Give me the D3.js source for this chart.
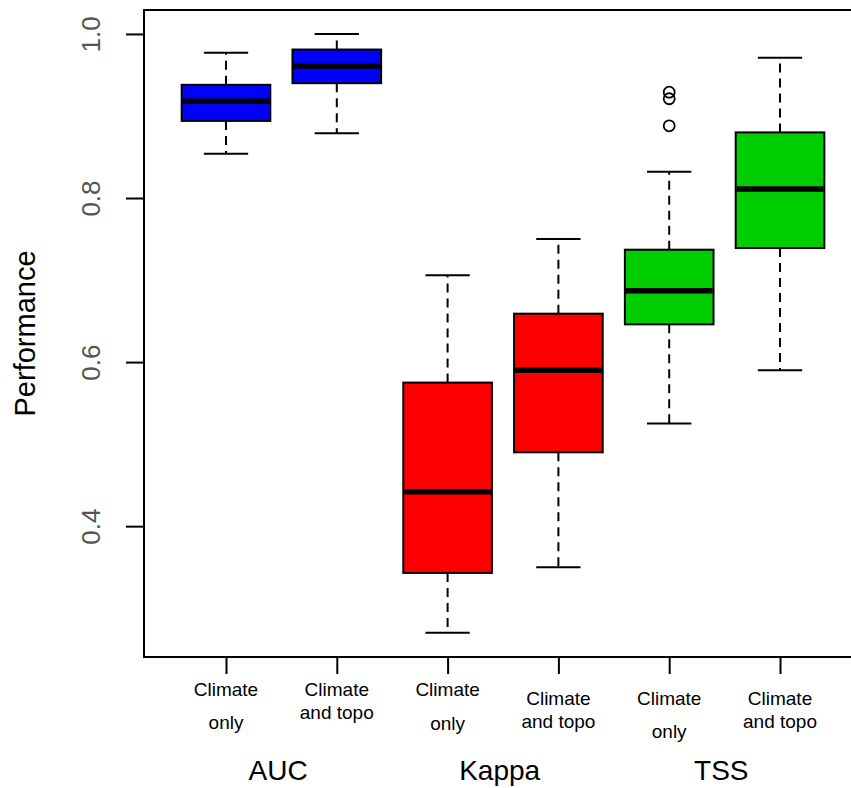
<!DOCTYPE html>
<html>
<head>
<meta charset="utf-8">
<script src="https://cdn.jsdelivr.net/npm/d3@7"></script>
<style>
  body { margin: 0; background: #fff; }
  svg { display: block; font-family: "Liberation Sans", Arial, sans-serif; }
</style>
</head>
<body>
<div id="chart"></div>
<script>
// values
var groups = ["AUC", "Kappa", "TSS"];
var categories = ["Climate\nonly", "Climate\nand topo", "Climate\nonly", "Climate\nand topo", "Climate\nonly", "Climate\nand topo"];
var boxGroup = [0, 0, 1, 1, 2, 2];
var lowWhisker = [0.854, 0.879, 0.270, 0.350, 0.525, 0.590];
var q1 = [0.894, 0.940, 0.343, 0.490, 0.646, 0.739];
var median = [0.918, 0.961, 0.442, 0.590, 0.687, 0.811];
var q3 = [0.938, 0.981, 0.575, 0.659, 0.737, 0.880];
var highWhisker = [0.977, 1.000, 0.706, 0.750, 0.832, 0.971];
var outliers = [[], [], [], [], [0.929, 0.921, 0.888], []];
var yTicks = [0.4, 0.6, 0.8, 1.0];

var groupColors = ["#0000ff", "#ff0000", "#00cd00"];
// baseline offsets (px below the axis) of the two label lines
var labelLines = [[39, 72], [39, 62], [39, 73], [48, 71], [48, 81], [48, 71]];

var W = 851, H = 788;
var pLeft = 144, pTop = 10, pBottom = 657, pRight = 862;

var svg = d3.select("#chart").append("svg").attr("width", W).attr("height", H);

var x = d3.scaleLinear().domain([0.26, 6.74]).range([pLeft, pRight]);
var y = d3.scaleLinear().domain([0.2405, 1.0292]).range([pBottom, pTop]);

var boxes = categories.map(function (c, i) {
  return {
    i: i + 1, label: c, g: boxGroup[i],
    lo: lowWhisker[i], q1: q1[i], med: median[i], q3: q3[i], hi: highWhisker[i],
    out: outliers[i]
  };
});

var bw = 0.8, sw = 0.4;

var b = svg.selectAll("g.box").data(boxes).enter().append("g").attr("class", "box");

// whiskers
b.append("line")
  .attr("x1", function (d) { return x(d.i); })
  .attr("x2", function (d) { return x(d.i); })
  .attr("y1", function (d) { return y(d.q3); })
  .attr("y2", function (d) { return y(d.hi); })
  .attr("stroke", "#000").attr("stroke-width", 2).attr("stroke-dasharray", "9,6");
b.append("line")
  .attr("x1", function (d) { return x(d.i); })
  .attr("x2", function (d) { return x(d.i); })
  .attr("y1", function (d) { return y(d.q1); })
  .attr("y2", function (d) { return y(d.lo); })
  .attr("stroke", "#000").attr("stroke-width", 2).attr("stroke-dasharray", "9,6");
// staples
b.append("line")
  .attr("x1", function (d) { return x(d.i - sw / 2); })
  .attr("x2", function (d) { return x(d.i + sw / 2); })
  .attr("y1", function (d) { return y(d.hi); })
  .attr("y2", function (d) { return y(d.hi); })
  .attr("stroke", "#000").attr("stroke-width", 2);
b.append("line")
  .attr("x1", function (d) { return x(d.i - sw / 2); })
  .attr("x2", function (d) { return x(d.i + sw / 2); })
  .attr("y1", function (d) { return y(d.lo); })
  .attr("y2", function (d) { return y(d.lo); })
  .attr("stroke", "#000").attr("stroke-width", 2);
// box
b.append("rect")
  .attr("x", function (d) { return x(d.i - bw / 2); })
  .attr("width", function (d) { return x(d.i + bw / 2) - x(d.i - bw / 2); })
  .attr("y", function (d) { return y(d.q3); })
  .attr("height", function (d) { return y(d.q1) - y(d.q3); })
  .attr("fill", function (d) { return groupColors[d.g]; })
  .attr("stroke", "#000").attr("stroke-width", 2);
// median
b.append("line")
  .attr("x1", function (d) { return x(d.i - bw / 2) + 1; })
  .attr("x2", function (d) { return x(d.i + bw / 2) - 1; })
  .attr("y1", function (d) { return y(d.med); })
  .attr("y2", function (d) { return y(d.med); })
  .attr("stroke", "#000").attr("stroke-width", 5.5);
// outliers
b.selectAll("circle")
  .data(function (d) { return d.out.map(function (v) { return { i: d.i, v: v }; }); })
  .enter().append("circle")
  .attr("cx", function (d) { return x(d.i); })
  .attr("cy", function (d) { return y(d.v); })
  .attr("r", 5.5)
  .attr("fill", "none").attr("stroke", "#000").attr("stroke-width", 1.8);

// frame
svg.append("rect")
  .attr("x", pLeft).attr("y", pTop)
  .attr("width", pRight - pLeft).attr("height", pBottom - pTop)
  .attr("fill", "none").attr("stroke", "#000").attr("stroke-width", 2);

// y axis
var yAxis = svg.append("g")
  .attr("transform", "translate(" + pLeft + ",0)")
  .call(d3.axisLeft(y).tickValues(yTicks).tickSize(18).tickFormat(d3.format(".1f")));
yAxis.select(".domain").remove();
yAxis.selectAll(".tick line").attr("stroke", "#000").attr("stroke-width", 2);
yAxis.selectAll(".tick text")
  .attr("x", 0).attr("y", -44).attr("dy", null)
  .attr("transform", "rotate(-90)")
  .attr("text-anchor", "middle")
  .style("font-size", "26px")
  .style("font-family", "'Liberation Sans', Arial, sans-serif")
  .attr("fill", "#555");

// x axis
var xAxis = svg.append("g")
  .attr("transform", "translate(0," + pBottom + ")")
  .call(d3.axisBottom(x).tickValues(boxes.map(function (d) { return d.i; })).tickSize(17).tickFormat(""));
xAxis.select(".domain").remove();
xAxis.selectAll(".tick line").attr("stroke", "#000").attr("stroke-width", 2);

svg.selectAll("text.cat")
  .data(boxes).enter().append("text")
  .attr("class", "cat")
  .attr("text-anchor", "middle")
  .style("font-size", "19px")
  .attr("fill", "#000")
  .each(function (d, k) {
    var lines = d.label.split("\n");
    var t = d3.select(this);
    lines.forEach(function (ln, j) {
      t.append("tspan")
        .attr("x", x(d.i))
        .attr("y", pBottom + labelLines[k][j])
        .text(ln);
    });
  });

// group labels
svg.selectAll("text.grp")
  .data(groups).enter().append("text")
  .attr("class", "grp")
  .attr("x", function (d, k) { return x(1.47 + 2 * k); })
  .attr("y", 780)
  .attr("text-anchor", "middle")
  .style("font-size", "28px")
  .attr("fill", "#000")
  .text(function (d) { return d; });

// y title
svg.append("text")
  .attr("transform", "translate(35," + (pTop + pBottom) / 2 + ") rotate(-90)")
  .attr("text-anchor", "middle")
  .style("font-size", "29px")
  .attr("fill", "#000")
  .text("Performance");
</script>
</body>
</html>
